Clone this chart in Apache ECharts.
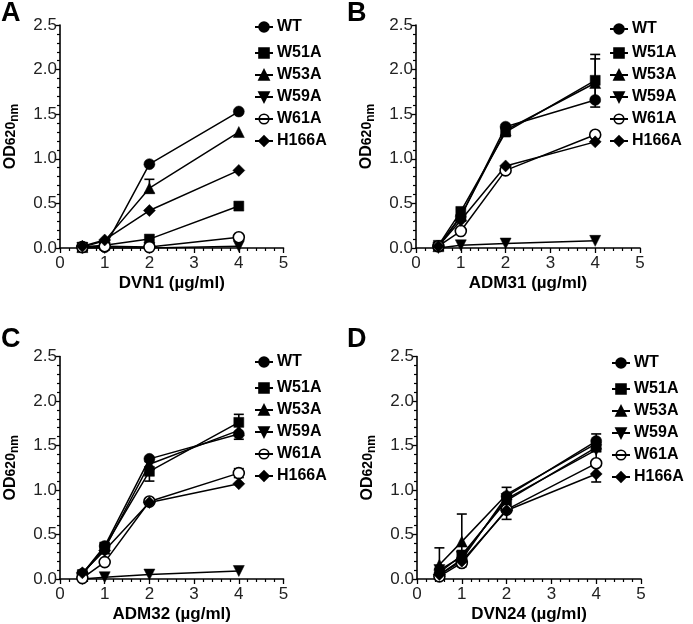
<!DOCTYPE html>
<html>
<head>
<meta charset="utf-8">
<script src="https://cdn.jsdelivr.net/npm/echarts@6/dist/echarts.min.js"></script>
<style>
html,body{margin:0;padding:0;background:#fff;}
#chart{width:693px;height:624px;}
</style>
</head>
<body>
<div id="chart"></div>
<script>
// ---- data ----
const doses = [0.5, 1, 2, 4];
const variants = ['WT', 'W51A', 'W53A', 'W59A', 'W61A', 'H166A'];
const xTickLabels = ['0', '1', '2', '3', '4', '5'];
const yTickLabels = ['0.0', '0.5', '1.0', '1.5', '2.0', '2.5'];
const panelLetters = ['A', 'B', 'C', 'D'];
const xTitles = ['DVN1 (\u00b5g/ml)', 'ADM31 (\u00b5g/ml)', 'ADM32 (\u00b5g/ml)', 'DVN24 (\u00b5g/ml)'];

// Panel A (DVN1)
const A_WT    = [0.01, 0.01, 0.94, 1.53];
const A_W51A  = [0.01, 0.03, 0.10, 0.47];
const A_W53A  = [0.01, 0.08, 0.67, 1.30];
const A_W59A  = [0.00, 0.00, 0.00, 0.02];
const A_W61A  = [0.01, 0.02, 0.01, 0.12];
const A_H166A = [0.02, 0.09, 0.42, 0.87];
// Panel B (ADM31)
const B_WT    = [0.02, 0.35, 1.36, 1.66];
const B_W51A  = [0.03, 0.41, 1.30, 1.88];
const B_W53A  = [0.02, 0.36, 1.32, 1.85];
const B_W59A  = [0.00, 0.03, 0.05, 0.08];
const B_W61A  = [0.02, 0.19, 0.87, 1.27];
const B_H166A = [0.02, 0.31, 0.92, 1.19];
// Panel C (ADM32)
const C_WT    = [0.06, 0.37, 1.35, 1.63];
const C_W51A  = [0.05, 0.36, 1.21, 1.76];
const C_W53A  = [0.06, 0.34, 1.29, 1.67];
const C_W59A  = [0.00, 0.02, 0.05, 0.09];
const C_W61A  = [0.01, 0.19, 0.87, 1.19];
const C_H166A = [0.07, 0.32, 0.86, 1.07];
// Panel D (DVN24)
const D_WT    = [0.05, 0.22, 0.93, 1.55];
const D_W51A  = [0.07, 0.27, 0.88, 1.48];
const D_W53A  = [0.16, 0.42, 0.95, 1.52];
const D_W59A  = [0.10, 0.25, 0.90, 1.45];
const D_W61A  = [0.03, 0.18, 0.78, 1.30];
const D_H166A = [0.05, 0.20, 0.77, 1.18];

// error bars: [dose, low, high]
const errA = [[2, 0.62, 0.77]];
const errB = [[4, 1.58, 2.17], [4, 1.64, 2.12]];
const errC = [[2, 1.10, 1.32], [4, 1.57, 1.85], [4, 1.14, 1.24]];
const errD = [[0.5, 0.02, 0.35], [1, 0.14, 0.73], [2, 0.67, 1.03], [4, 1.09, 1.63]];

const panelData = [
  [A_WT, A_W51A, A_W53A, A_W59A, A_W61A, A_H166A],
  [B_WT, B_W51A, B_W53A, B_W59A, B_W61A, B_H166A],
  [C_WT, C_W51A, C_W53A, C_W59A, C_W61A, C_H166A],
  [D_WT, D_W51A, D_W53A, D_W59A, D_W61A, D_H166A]
];
const panelErr = [errA, errB, errC, errD];

// ---- layout / style ----
const grids = [
  {left: 59.5, top: 25, width: 224, height: 223},
  {left: 416, top: 25, width: 224, height: 223},
  {left: 59.5, top: 356.5, width: 224, height: 224},
  {left: 417, top: 356.5, width: 224, height: 224}
];
const letterPos = [[1, 0], [347, 0], [1, 326], [347, 326]];
const legendPos = [
  {left: 254, wtTop: 19, restTop: 45},
  {left: 609, wtTop: 21, restTop: 45},
  {left: 254, wtTop: 354, restTop: 380},
  {left: 611, wtTop: 355, restTop: 381}
];
const symbols = {
  'WT':    {symbol: 'circle', size: 11, fill: '#000'},
  'W51A':  {symbol: 'rect', size: 10, fill: '#000'},
  'W53A':  {symbol: 'triangle', size: 11, fill: '#000'},
  'W59A':  {symbol: 'path://M0,0 L10,0 L5,9 Z', size: 11, fill: '#000'},
  'W61A':  {symbol: 'circle', size: 11, fill: '#fff'},
  'H166A': {symbol: 'diamond', size: 12, fill: '#000'}
};
const FONT = 'Liberation Sans, Arial, Helvetica, sans-serif';

const option = {
  backgroundColor: '#fff',
  animation: false,
  grid: [], xAxis: [], yAxis: [], series: [], legend: [], title: []
};

for (let p = 0; p < 4; p++) {
  option.grid.push(Object.assign({containLabel: false}, grids[p]));
  option.xAxis.push({
    type: 'value', gridIndex: p, min: 0, max: 5, interval: 1,
    name: xTitles[p], nameLocation: 'middle', nameGap: 27,
    nameTextStyle: {fontFamily: FONT, fontWeight: 'bold', fontSize: 17, color: '#000'},
    axisLine: {show: true, onZero: false, lineStyle: {color: '#000', width: 1.6}},
    axisTick: {show: true, length: 5, lineStyle: {color: '#000', width: 1.3}},
    minorTick: {show: true, splitNumber: 5, length: 3, lineStyle: {color: '#000', width: 1.2}},
    splitLine: {show: false},
    axisLabel: {margin: 7, fontFamily: FONT, fontSize: 17, color: '#222',
      formatter: (v) => xTickLabels[Math.round(v)]}
  });
  option.yAxis.push({
    type: 'value', gridIndex: p, min: 0, max: 2.5, interval: 0.5,
    name: '{a|OD}{b|620}{c|nm}', nameLocation: 'middle', nameGap: 38, nameRotate: 90,
    nameTextStyle: {
      fontFamily: FONT, fontWeight: 'bold', color: '#000',
      rich: {
        a: {fontFamily: FONT, fontWeight: 'bold', fontSize: 16, color: '#000', lineHeight: 22},
        b: {fontFamily: FONT, fontWeight: 'bold', fontSize: 14, color: '#000', lineHeight: 22},
        c: {fontFamily: FONT, fontWeight: 'bold', fontSize: 12, color: '#000', lineHeight: 22, padding: [8, 0, 0, 0]}
      }
    },
    axisLine: {show: true, onZero: false, lineStyle: {color: '#000', width: 1.6}},
    axisTick: {show: true, length: 5, lineStyle: {color: '#000', width: 1.3}},
    minorTick: {show: true, splitNumber: 5, length: 3, lineStyle: {color: '#000', width: 1.2}},
    splitLine: {show: false},
    axisLabel: {margin: 3, fontFamily: FONT, fontSize: 17, color: '#222',
      formatter: (v) => yTickLabels[Math.round(v * 2)]}
  });

  variants.forEach((name, i) => {
    const s = symbols[name];
    option.series.push({
      type: 'line', name: name, xAxisIndex: p, yAxisIndex: p,
      data: doses.map((d, k) => [d, panelData[p][i][k]]),
      symbol: s.symbol, symbolSize: s.size, showAllSymbol: true,
      lineStyle: {color: '#000', width: 1.5},
      itemStyle: {color: s.fill, borderColor: '#000', borderWidth: name === 'W61A' ? 1.6 : 0.5},
      emphasis: {disabled: true}, z: 3
    });
  });
  option.series.push({
    type: 'custom', name: 'err' + p, xAxisIndex: p, yAxisIndex: p,
    data: panelErr[p], z: 2,
    renderItem: function (params, api) {
      const x = api.value(0), lo = api.value(1), hi = api.value(2);
      const a = api.coord([x, lo]), b = api.coord([x, hi]);
      const w = 5;
      const st = {stroke: '#000', lineWidth: 1.6};
      return {type: 'group', children: [
        {type: 'line', shape: {x1: a[0], y1: a[1], x2: b[0], y2: b[1]}, style: st},
        {type: 'line', shape: {x1: a[0] - w, y1: a[1], x2: a[0] + w, y2: a[1]}, style: st},
        {type: 'line', shape: {x1: b[0] - w, y1: b[1], x2: b[0] + w, y2: b[1]}, style: st}
      ]};
    }
  });

  const lp = legendPos[p];
  const legendCommon = {
    orient: 'vertical', left: lp.left, itemWidth: 18, itemHeight: 12, itemGap: 6,
    selectedMode: false,
    textStyle: {fontFamily: FONT, fontWeight: 'bold', fontSize: 16, color: '#000', lineHeight: 16, padding: [0, 0, 0, -1]},
    padding: 0
  };
  const restData = variants.slice(1).map(n => n === 'W61A'
    ? {name: n, itemStyle: {color: 'rgba(255,255,255,0)', borderColor: '#000', borderWidth: 1.6}}
    : {name: n});
  option.legend.push(Object.assign({}, legendCommon, {top: lp.wtTop, data: ['WT']}));
  option.legend.push(Object.assign({}, legendCommon, {top: lp.restTop, data: restData}));

  option.title.push({
    text: panelLetters[p], left: letterPos[p][0], top: letterPos[p][1], padding: 0,
    textStyle: {fontFamily: FONT, fontWeight: 'bold', fontSize: 27, color: '#000'}
  });
}

const chart = echarts.init(document.getElementById('chart'), null, {renderer: 'canvas'});
chart.setOption(option);
</script>
</body>
</html>
